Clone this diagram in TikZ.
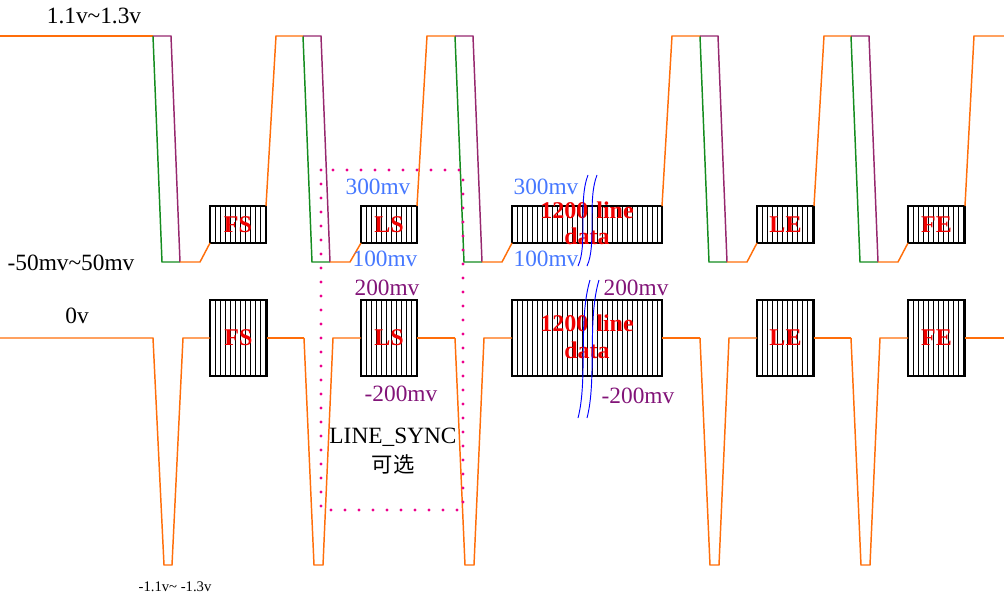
\documentclass[tikz,border=0pt]{standalone}
\usepackage{fontspec}
\setmainfont{Liberation Serif}
\newfontfamily\cjk{Noto Sans CJK SC}
\begin{document}
\begin{tikzpicture}[x=0.75pt,y=-0.75pt,
  sig/.style={draw={rgb,255:red,255;green,110;blue,10},line width=1.1pt},
  gsig/.style={draw={rgb,255:red,20;green,140;blue,30},line width=1.1pt},
  psig/.style={draw={rgb,255:red,150;green,40;blue,110},line width=1.1pt},
  hbox/.style={draw=black,line width=1.2pt},
  btxt/.style={text={rgb,255:red,240;green,0;blue,0},font=\bfseries\fontsize{18}{20}\selectfont,align=center,inner sep=0pt},
  lbl/.style={font=\fontsize{17.5}{19}\selectfont,inner sep=0pt},
  blu/.style={lbl,text={rgb,255:red,70;green,120;blue,255}},
  pur/.style={lbl,text={rgb,255:red,130;green,20;blue,120}}]
\useasboundingbox (0,0) rectangle (1004,603);
% hatched boxes
\foreach \nm/\a/\b/\ya/\yb in {tfs/210/266/206/243, tls/361/417/206/243, td/512/662/206/243, tle/757/814/206/243, tfe/908/965/206/243,
  bfs/210/267/300/376, bls/361/417/300/376, bd/512/662/300/376, ble/757/814/300/376, bfe/908/965/300/376}{
  \foreach \xx in {\a,...,\b}{\pgfmathparse{int(mod(\xx-\a,5))}\ifnum\pgfmathresult=0 \draw[line width=0.6pt] (\xx,\ya)--(\xx,\yb);\fi}
  \draw[hbox] (\a,\ya) rectangle (\b,\yb);
  \coordinate (\nm) at ({(\a+\b)/2},{(\ya+\yb)/2});
}
\foreach \nm/\t in {tfs/FS,tls/LS,tle/LE,tfe/FE,bfs/FS,bls/LS,ble/LE,bfe/FE}{\node[btxt] at (\nm) {\t};}
\node[btxt,text width=110pt] at ([yshift=1pt]td) {1200 line\\data};
\node[btxt,text width=110pt] at ([yshift=1pt]bd) {1200 line\\data};
% top waveform
\draw[sig] (0,36)--(153,36);
\foreach \s/\e in {153/210, 303/361, 455/512, 700/757, 851/908}{
  \draw[gsig] (\s,36)--(\s+9,262)--(\s+27,262);
  \draw[psig] (\s,36)--(\s+18,36)--(\s+27,262);
  \draw[sig] (\s+27,262)--(\s+47,262)--(\e,243);
}
\foreach \a/\b in {266/303, 417/455, 662/700, 814/851}{
  \draw[sig] (\a,206)--(\a+10,36)--(\b,36);
}
\draw[sig] (965,206)--(974,36)--(1004,36);
% bottom waveform
\draw[sig] (0,338)--(153,338)--(164,565)--(172,565)--(183,338)--(210,338);
\foreach \s/\e in {304/361, 455/512, 700/757, 851/908}{
  \draw[sig] (\s,338)--(\s+10,565)--(\s+19,565)--(\s+29,338)--(\e,338);
}
\draw[sig] (267,338)--(304,338);
\draw[sig] (417,338)--(455,338);
\draw[sig] (662,338)--(700,338);
\draw[sig] (814,338)--(851,338);
\draw[sig] (965,338)--(1004,338);
% dotted box
\draw[magenta,line width=2.4pt,dash pattern=on 0pt off 10.5pt,line cap=round] (321,170) rectangle (463,510);
% blue breaks
\foreach \d in {0,9}{
  \draw[blue,line width=0.7pt] (588+\d,175) .. controls (578+\d,200) and (588+\d,245) .. (578+\d,266);
  \draw[blue,line width=0.7pt] (590+\d,280) .. controls (578+\d,320) and (588+\d,380) .. (578+\d,418);
}
% labels
\node[lbl] at (94,16) {1.1v\textasciitilde1.3v};
\node[lbl] at (71,263) {-50mv\textasciitilde50mv};
\node[lbl] at (77,316) {0v};
\node[lbl,font=\fontsize{11}{12}\selectfont] at (175,587) {-1.1v\textasciitilde\ -1.3v};
\node[blu] at (378,187) {300mv};
\node[blu] at (385,259) {100mv};
\node[pur] at (387,288) {200mv};
\node[pur] at (401,394) {-200mv};
\node[blu] at (546,187) {300mv};
\node[blu] at (546,259) {100mv};
\node[pur] at (636,288) {200mv};
\node[pur] at (638,396) {-200mv};
\node[lbl] at (393,437) {LINE\_SYNC};
\node[lbl,font=\cjk\fontsize{16}{17}\selectfont] at (393,464) {可选};
\end{tikzpicture}
\end{document}
